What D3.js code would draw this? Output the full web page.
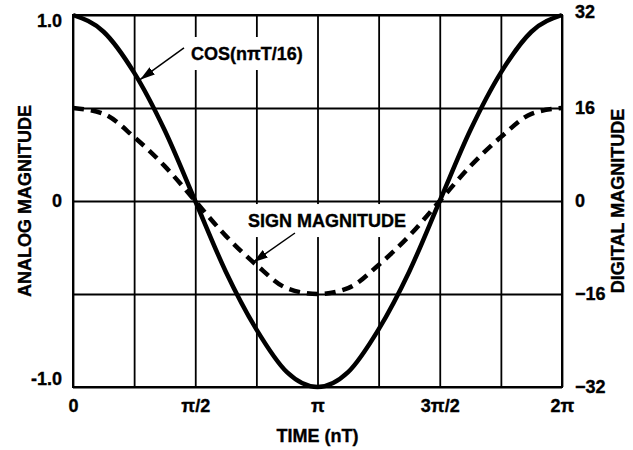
<!DOCTYPE html>
<html>
<head>
<meta charset="utf-8">
<script src="https://cdn.jsdelivr.net/npm/d3@7"></script>
<style>
  body { margin: 0; background: #fff; }
  text { font-family: "Liberation Sans", Arial, Helvetica, sans-serif; font-weight: bold; stroke: #000; stroke-width: 0.35px; }
</style>
</head>
<body>
<div id="chart"></div>
<script>
// sample index n, time = n * pi/8
var sampleN = [0, 1, 2, 3, 4, 5, 6, 7, 8, 9, 10, 11, 12, 13, 14, 15, 16];
// analog cos(n pi T/16)
var analog = [1.0, 0.91, 0.69, 0.38, 0.0, -0.38, -0.69, -0.92, -1.0, -0.92, -0.69, -0.38, 0.0, 0.38, 0.69, 0.91, 1.0];
// sign magnitude digital code
var digital = [16, 15, 11, 6, 0, -6, -11, -15, -16, -15, -11, -6, 0, 6, 11, 15, 16];

var xTickVals = [0, Math.PI / 2, Math.PI, 3 * Math.PI / 2, 2 * Math.PI];
var xTickLabels = ["0", "\u03C0/2", "\u03C0", "3\u03C0/2", "2\u03C0"];
var xGrid = [0, 1, 2, 3, 4, 5, 6, 7, 8].map(function(k){ return k * Math.PI / 4; });
var leftTicks = [1.0, 0, -1.0];
var leftTickLabels = ["1.0", "0", "-1.0"];
var leftGrid = [-1, -0.5, 0, 0.5, 1];
var rightTicks = [32, 16, 0, -16, -32];

// annotations, in data units (t in radians, v in analog units)
var notes = [
	{ text: "COS(n\u03C0T/16)", anchor: "start", tx: 1.516, tv: 0.758, sx: 1.426, sv: 0.823, ex: 0.861, ev: 0.652 },
	{ text: "SIGN MAGNITUDE", anchor: "middle", tx: 3.264, tv: -0.14, sx: 2.852, sv: -0.172, ex: 2.313, ev: -0.33 }
];

var chart_width = 633;
var chart_height = 450;
// plot box (window.top is reserved, so p_ prefix)
var p_left = 73, p_top = 15, p_right = 562, p_bottom = 387;

var svg = d3.select('#chart')
	.append('svg')
	.attr('width', chart_width)
	.attr('height', chart_height);

var x = d3.scaleLinear().domain([0, 2 * Math.PI]).range([p_left, p_right]);
var yL = d3.scaleLinear().domain([-1, 1]).range([p_bottom, p_top]);
var yR = d3.scaleLinear().domain([-32, 32]).range([p_bottom, p_top]);

// grid
svg.append('g')
	.attr('transform', 'translate(0,' + p_bottom + ')')
	.call(d3.axisBottom(x).tickValues(xGrid).tickSize(-(p_bottom - p_top)).tickFormat(''))
	.call(function(g){ g.select('.domain').remove(); })
	.selectAll('line').attr('stroke', '#000').attr('stroke-width', 1.8);

svg.append('g')
	.attr('transform', 'translate(' + p_left + ',0)')
	.call(d3.axisLeft(yL).tickValues(leftGrid).tickSize(-(p_right - p_left)).tickFormat(''))
	.call(function(g){ g.select('.domain').remove(); })
	.selectAll('line').attr('stroke', '#000').attr('stroke-width', 1.8);

svg.append('rect')
	.attr('x', p_left).attr('y', p_top)
	.attr('width', p_right - p_left).attr('height', p_bottom - p_top)
	.attr('fill', 'none').attr('stroke', '#000').attr('stroke-width', 2);

// annotation backgrounds + text
var noteG = svg.append('g');
var noteText = noteG.selectAll('text')
	.data(notes)
	.enter()
	.append('text')
	.text(function(d){ return d.text; })
	.attr('x', function(d){ return x(d.tx); })
	.attr('y', function(d){ return yL(d.tv); })
	.attr('text-anchor', function(d){ return d.anchor; })
	.attr('font-size', 18);

noteText.each(function(){
	var b = this.getBBox();
	noteG.insert('rect', 'text')
		.attr('x', b.x - 4).attr('y', b.y - 7)
		.attr('width', b.width + 6).attr('height', b.height + 13)
		.attr('fill', '#fff')
		.attr('stroke', 'none');
});

// curves
var line = d3.line()
	.x(function(d){ return x(d.n * Math.PI / 8); })
	.y(function(d){ return d.y; })
	.curve(d3.curveMonotoneX);

svg.append('path')
	.datum(sampleN.map(function(n, i){ return { n: n, y: yR(digital[i]) }; }))
	.attr('d', line)
	.attr('fill', 'none')
	.attr('stroke', '#000')
	.attr('stroke-width', 4.5)
	.attr('stroke-dasharray', '11,7');

svg.append('path')
	.datum(sampleN.map(function(n, i){ return { n: n, y: yL(analog[i]) }; }))
	.attr('d', line)
	.attr('fill', 'none')
	.attr('stroke', '#000')
	.attr('stroke-width', 4.5)
	.attr('stroke-linejoin', 'round');

// arrows
svg.append('defs').append('marker')
	.attr('id', 'arrow')
	.attr('viewBox', '0 0 10 10')
	.attr('refX', 10).attr('refY', 5)
	.attr('markerWidth', 15).attr('markerHeight', 15)
	.attr('markerUnits', 'userSpaceOnUse')
	.attr('orient', 'auto')
	.append('path')
	.attr('d', 'M0,2L10,5L0,8Z')
	.attr('fill', '#000');

svg.selectAll('.arrow')
	.data(notes)
	.enter()
	.append('line')
	.attr('class', 'arrow')
	.attr('x1', function(d){ return x(d.sx); })
	.attr('y1', function(d){ return yL(d.sv); })
	.attr('x2', function(d){ return x(d.ex); })
	.attr('y2', function(d){ return yL(d.ev); })
	.attr('stroke', '#000')
	.attr('stroke-width', 1.5)
	.attr('marker-end', 'url(#arrow)');

// tick labels
svg.append('g')
	.attr('transform', 'translate(0,' + p_bottom + ')')
	.call(d3.axisBottom(x).tickValues(xTickVals).tickSize(0).tickPadding(12)
		.tickFormat(function(d, i){ return xTickLabels[i]; }))
	.call(function(g){ g.select('.domain').remove(); })
	.selectAll('text').attr('font-size', 18).attr('fill', '#000');

svg.append('g')
	.attr('transform', 'translate(' + p_left + ',0)')
	.call(d3.axisLeft(yL).tickValues(leftTicks).tickSize(0).tickPadding(11)
		.tickFormat(function(d, i){ return leftTickLabels[i]; }))
	.call(function(g){ g.select('.domain').remove(); })
	.selectAll('text')
	.attr('font-size', 18).attr('fill', '#000')
	.attr('dy', function(d){ return d === 1 ? '0.65em' : d === -1 ? '-0.15em' : '0.32em'; });

svg.append('g')
	.attr('transform', 'translate(' + p_right + ',0)')
	.call(d3.axisRight(yR).tickValues(rightTicks).tickSize(0).tickPadding(13))
	.call(function(g){ g.select('.domain').remove(); })
	.selectAll('text').attr('font-size', 18).attr('fill', '#000')
	.attr('dy', function(d){ return d === 32 ? '0.15em' : '0.32em'; });

// axis titles
svg.append('text')
	.text('TIME (nT)')
	.attr('x', (p_left + p_right) / 2)
	.attr('y', 442)
	.attr('text-anchor', 'middle')
	.attr('font-size', 18);

svg.append('text')
	.text('ANALOG MAGNITUDE')
	.attr('transform', 'translate(31,' + yL(0) + ') rotate(-90)')
	.attr('text-anchor', 'middle')
	.attr('font-size', 18);

svg.append('text')
	.text('DIGITAL MAGNITUDE')
	.attr('transform', 'translate(624,' + yL(0) + ') rotate(-90)')
	.attr('text-anchor', 'middle')
	.attr('font-size', 18);
</script>
</body>
</html>
